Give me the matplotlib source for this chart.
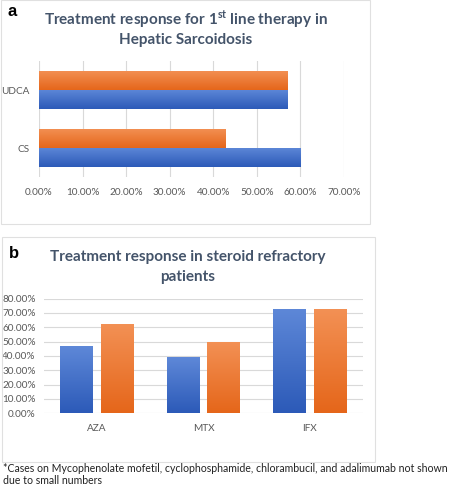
import matplotlib
matplotlib.use('Agg')
import matplotlib.pyplot as plt
import numpy as np
from matplotlib.patches import Rectangle
from matplotlib.colors import LinearSegmentedColormap
from matplotlib.ticker import FuncFormatter

plt.rcParams['font.family'] = ['Lato', 'DejaVu Sans']
plt.rcParams['mathtext.fontset'] = 'custom'
plt.rcParams['mathtext.rm'] = 'Lato:bold'

# ---- data ----
cats_a = ['CS', 'UDCA']
a_blue = [0.600, 0.5714]
a_orange = [0.4286, 0.5714]
ticks_a = [0, 0.1, 0.2, 0.3, 0.4, 0.5, 0.6, 0.7]

cats_b = ['AZA', 'MTX', 'IFX']
b_blue = [0.4667, 0.3889, 0.7273]
b_orange = [0.625, 0.500, 0.7273]
ticks_b = [0, 0.1, 0.2, 0.3, 0.4, 0.5, 0.6, 0.7, 0.8]

W, H = 450, 500
fig = plt.figure(figsize=(4.5, 5), dpi=100)

def rect_px(x0, y0, x1, y1):
    return [x0 / W, 1 - y1 / H, (x1 - x0) / W, (y1 - y0) / H]

def fx(px):
    return px / W

def fy(py):
    return 1 - py / H

TITLE_C = '#44546A'
TICK_C = '#595959'
GRID_C = '#D9D9D9'

blue_cmap = LinearSegmentedColormap.from_list('b', ['#2C5AB8', '#5E88D8'])
orange_cmap = LinearSegmentedColormap.from_list('o', ['#E5661A', '#F39155'])

def grad_fill(ax, patches, cmap):
    grad = np.linspace(0, 1, 256).reshape(-1, 1)
    for p in patches:
        x, y = p.get_x(), p.get_y()
        w, h = p.get_width(), p.get_height()
        im = ax.imshow(grad, cmap=cmap, origin='lower',
                       extent=[x, x + w, y, y + h], aspect='auto',
                       zorder=3, interpolation='bilinear')
        im.set_clip_path(p)

pct = FuncFormatter(lambda v, _: f'{v*100:.2f}%')

# panel boxes
fig.patches.append(Rectangle((fx(0.5), fy(224)), (370 - 0.5) / W, 224 / H,
                             transform=fig.transFigure, fill=False,
                             edgecolor='#E0E0E0', lw=0.8))
fig.patches.append(Rectangle((fx(2), fy(461.5)), (375 - 2) / W, (461.5 - 237) / H,
                             transform=fig.transFigure, fill=False,
                             edgecolor='#E0E0E0', lw=0.8))

# ---- panel a ----
axa = fig.add_axes(rect_px(39, 61, 344, 177))
ya = np.arange(len(cats_a))
hh = 0.33
pb = axa.barh(ya - hh / 2, a_blue, height=hh, color='#4472C4', zorder=2)
po = axa.barh(ya + hh / 2, a_orange, height=hh, color='#ED7D31', zorder=2)
grad_fill(axa, pb, blue_cmap)
grad_fill(axa, po, orange_cmap)
axa.set_xlim(0, 0.7)
axa.set_ylim(-0.5, 1.5)
axa.set_xticks(ticks_a)
axa.xaxis.set_major_formatter(pct)
axa.set_yticks(ya)
axa.set_yticklabels(cats_a)
axa.grid(axis='x', color=GRID_C, lw=0.8, zorder=0)
axa.set_axisbelow(True)
for s in axa.spines.values():
    s.set_visible(False)
axa.tick_params(length=0, labelsize=7.2, colors=TICK_C)
axa.tick_params(axis='x', pad=8)
axa.tick_params(axis='y', pad=7)

fig.text(fx(185.5), fy(19), r'Treatment response for 1$^{\mathrm{st}}$ line therapy in',
         ha='center', va='center', fontsize=11, fontweight='bold', color=TITLE_C)
fig.text(fx(185.5), fy(40), 'Hepatic Sarcoidosis', ha='center', va='center',
         fontsize=11, fontweight='bold', color=TITLE_C)
fig.text(fx(7), fy(11), 'a', ha='left', va='center', fontsize=12,
         fontweight='bold', color='black', family=['Liberation Sans', 'DejaVu Sans'])

# ---- panel b ----
axb = fig.add_axes(rect_px(44, 298.5, 363, 413.3))
xb = np.arange(len(cats_b))
bw = 0.31
off = 0.19
qb = axb.bar(xb - off, b_blue, width=bw, color='#4472C4', zorder=2)
qo = axb.bar(xb + off, b_orange, width=bw, color='#ED7D31', zorder=2)
grad_fill(axb, qb, blue_cmap)
grad_fill(axb, qo, orange_cmap)
axb.set_xlim(-0.5, 2.5)
axb.set_ylim(0, 0.8)
axb.set_yticks(ticks_b)
axb.yaxis.set_major_formatter(pct)
axb.set_xticks(xb)
axb.set_xticklabels(cats_b)
axb.grid(axis='y', color=GRID_C, lw=0.8, zorder=0)
axb.set_axisbelow(True)
for s in axb.spines.values():
    s.set_visible(False)
axb.tick_params(length=0, labelsize=7.2, colors=TICK_C)
axb.tick_params(axis='x', pad=8)
axb.tick_params(axis='y', pad=6)

fig.text(fx(188), fy(257), 'Treatment response in steroid refractory',
         ha='center', va='center', fontsize=11, fontweight='bold', color=TITLE_C)
fig.text(fx(188), fy(277), 'patients', ha='center', va='center',
         fontsize=11, fontweight='bold', color=TITLE_C)
fig.text(fx(9), fy(254), 'b', ha='left', va='center', fontsize=12,
         fontweight='bold', color='black', family=['Liberation Sans', 'DejaVu Sans'])

# footnote
fig.text(fx(3), fy(468), '*Cases on Mycophenolate mofetil, cyclophosphamide, chlorambucil, and adalimumab not shown',
         ha='left', va='center', fontsize=7.6, color='#222222')
fig.text(fx(3), fy(481), 'due to small numbers',
         ha='left', va='center', fontsize=7.6, color='#222222')

fig.savefig('out.png', dpi=100)
